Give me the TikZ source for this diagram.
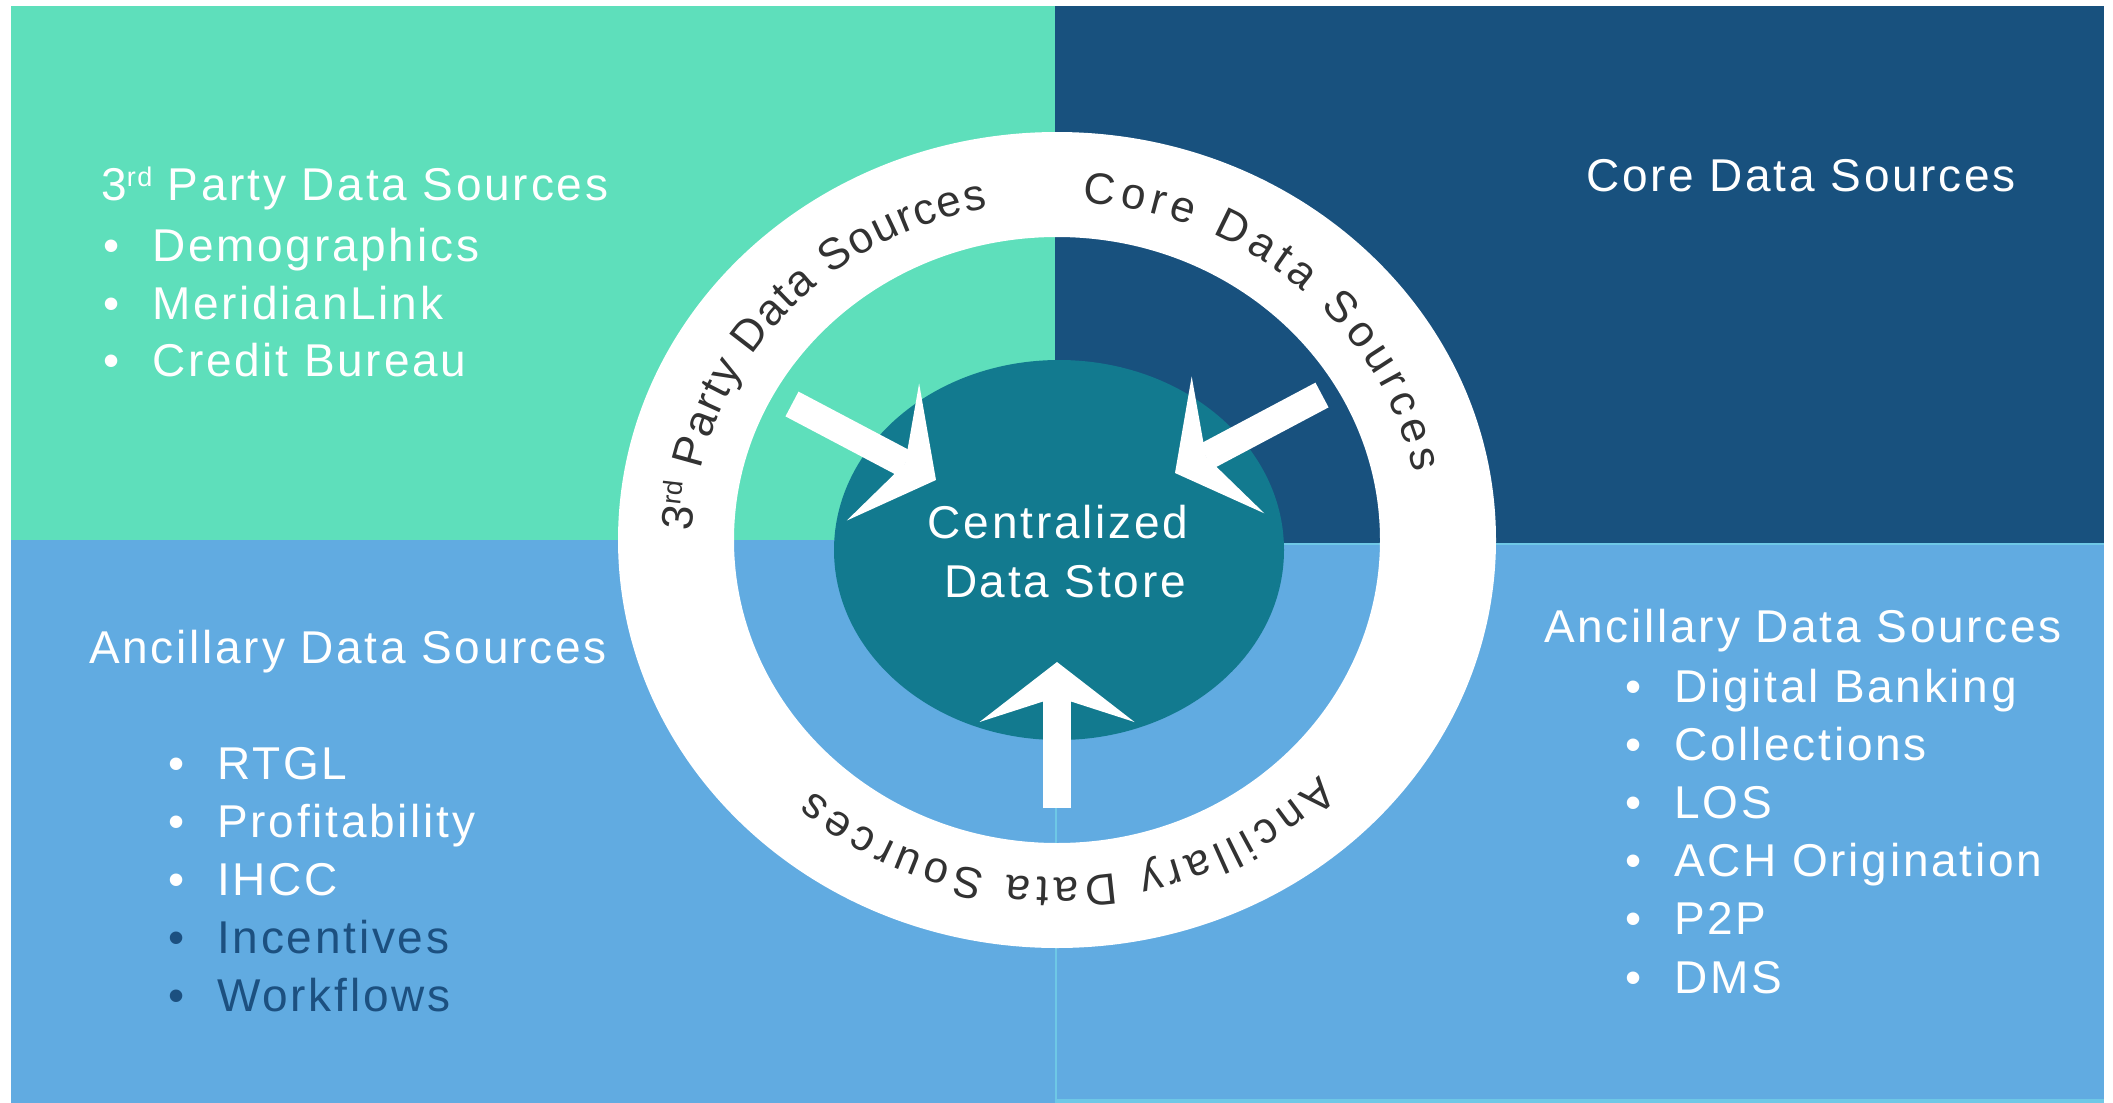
\documentclass[tikz,border=0pt]{standalone}
\usepackage{fontspec}
\setmainfont{Liberation Sans}[LetterSpace=6]
\newfontfamily\ringfam{Liberation Sans}
\usetikzlibrary{positioning, shapes.geometric, arrows.meta, decorations.text, calc}

\definecolor{partygreen}{RGB}{94,223,187}
\definecolor{coreblue}{RGB}{24,81,126}
\definecolor{ancblue}{RGB}{97,171,225}
\definecolor{storeteal}{RGB}{18,122,143}
\definecolor{edgecyan}{RGB}{110,200,230}
\definecolor{ringtext}{RGB}{50,50,50}
\definecolor{darkitem}{RGB}{28,80,128}

\newcommand{\srcfont}{\fontsize{46}{46}\selectfont}
\newcommand{\ringfont}{\ringfam\fontsize{44}{44}\selectfont\color{ringtext}}
\newcommand{\rdsup}[1]{\raisebox{14pt}{\fontsize{27}{27}\selectfont #1}}
\newcommand{\dotbox}{\makebox[49pt][l]{\textbullet}}

\begin{document}
\begin{tikzpicture}[x=1pt, y=1pt,
    title/.style={anchor=base west, inner sep=0pt, text=white, font=\srcfont},
    item/.style={title},
    flow/.style={draw=white, line width=28pt,
      -{Stealth[length=60pt, width=155pt, inset=25pt, line width=0pt]}},
    ringtag/.style={inner sep=0pt, anchor=base, font=\ringfont}]

\useasboundingbox (0,0) rectangle (2113,-1103);

% quadrants
\fill[partygreen] (11,-6) rectangle (1055,-540);
\fill[coreblue] (1055,-6) rectangle (2104,-543);
\fill[ancblue] (11,-540) rectangle (1055,-1103);
\fill[ancblue] (1055,-543) rectangle (2104,-1103);
\draw[edgecyan, line width=2pt] (1056,-1103) -- (1056,-544) -- (2104,-544);
\draw[edgecyan, line width=4pt] (1055,-1101) -- (2104,-1101);

% ring and store
\coordinate (ring) at (1057,-540);
\fill[white, even odd rule] (ring) ellipse[x radius=439, y radius=408]
  (ring) ellipse[x radius=323, y radius=303];
\node[ellipse, fill=storeteal, minimum width=450pt, minimum height=380pt, inner sep=0pt] (store) at (1059,-550) {};
\node[title, anchor=base] (storeA) at (1058,-538) {Centralized};
\node[title, anchor=base] (storeB) at (1065,-597) {Data Store};

% flows into the store
\coordinate (partyout) at (792,-404);
\coordinate (partyin) at (936,-480);
\coordinate (coreout) at (1322,-395);
\coordinate (corein) at (1175,-473);
\coordinate (ancout) at (1057,-808);
\coordinate (ancin) at (1057,-662);
\draw[flow] (partyout) -- (partyin);
\draw[flow] (coreout) -- (corein);
\draw[flow] (ancout) -- (ancin);

% ring labels
\path (ring) ++(174.5:364 and 338) node[ringtag, rotate=83.5] (partytag) {3\rdsup{rd}};
\path[decorate, decoration={text along path, text={|\ringfont|Party Data Sources}, text align={fit to path}}]
  (ring) ++(168:364 and 338) arc[start angle=168, end angle=101, x radius=364, y radius=338];
\path[decorate, decoration={text along path, text={|\ringfont|Core Data Sources}, text align={fit to path}}]
  (ring) ++(86:364 and 338) arc[start angle=86, end angle=11.5, x radius=364, y radius=338];
\path[decorate, decoration={text along path, text={|\ringfont|Ancillary Data Sources}, text align={fit to path}}]
  (ring) ++(-44:364 and 338) arc[start angle=-44, end angle=-132, x radius=364, y radius=338];

% source lists
\node[title] (partyhead) at (101,-200.7) {3\rdsup{rd} Party Data Sources};
\foreach \txt [count=\i] in {Demographics, MeridianLink, Credit Bureau}
  \node[item] (party\i) at (103,{-261.5-57.5*(\i-1)}) {\dotbox\txt};

\node[title] (corehead) at (1586,-191.5) {Core Data Sources};

\node[title] (anclhead) at (89,-663) {Ancillary Data Sources};
\foreach \txt/\col [count=\i] in {RTGL/white, Profitability/white, IHCC/white, Incentives/darkitem, Workflows/darkitem}
  \node[item, text=\col] (ancl\i) at (168,{-779-58.2*(\i-1)}) {\dotbox\txt};

\node[title] (ancrhead) at (1544,-642) {Ancillary Data Sources};
\foreach \txt [count=\i] in {Digital Banking, Collections, LOS, ACH Origination, P2P, DMS}
  \node[item] (ancr\i) at (1625,{-702-58.2*(\i-1)}) {\dotbox\txt};

\end{tikzpicture}
\end{document}
